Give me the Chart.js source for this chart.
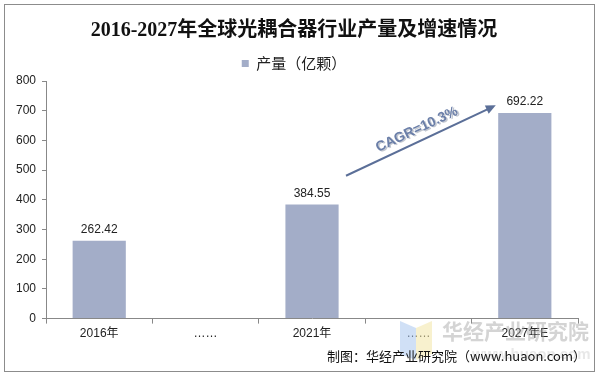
<!DOCTYPE html>
<html><head><meta charset="utf-8">
<script src="https://cdn.jsdelivr.net/npm/chart.js@4/dist/chart.umd.min.js"></script>
<style>html,body{margin:0;padding:0;background:#fff;}#wrap{width:599px;height:377px;}</style>
</head><body><div id="wrap"><canvas id="c" width="599" height="377"></canvas></div>
<script>
const categories = ["2016年", "……", "2021年", "……", "2027年E"];
const production = [262.42, null, 384.55, null, 692.22];
const yTicks = [0, 100, 200, 300, 400, 500, 600, 700, 800];
const seriesName = "产量（亿颗）";
const titleText = "2016-2027年全球光耦合器行业产量及增速情况";
const cagrText = "CAGR=10.3%";
const sourceText = "制图：华经产业研究院（www.huaon.com）";

const extras = {
  id: 'extras',
  beforeDraw(chart) {
    const ctx = chart.ctx;
    ctx.save();
    ctx.fillStyle = '#fff';
    ctx.fillRect(0, 0, chart.width, chart.height);
    ctx.restore();
  },
  afterDatasetsDraw(chart) {
    const ctx = chart.ctx;
    const meta = chart.getDatasetMeta(0);
    ctx.save();
    // value labels
    ctx.font = '12px "Liberation Sans", Arial, sans-serif';
    ctx.fillStyle = '#222';
    ctx.textAlign = 'center';
    ctx.textBaseline = 'bottom';
    meta.data.forEach((bar, i) => {
      const v = production[i];
      if (v == null) return;
      ctx.fillText(v.toFixed(2), bar.x, bar.y - 5);
    });
    // CAGR arrow between 2021 and 2027 bars
    const b1 = meta.data[2], b2 = meta.data[4];
    const ys = chart.scales.y;
    const x1 = b1.x + 34, y1 = ys.getPixelForValue(481);
    const x2 = b2.x - 29, y2 = ys.getPixelForValue(718);
    const ang = Math.atan2(y2 - y1, x2 - x1);
    ctx.strokeStyle = '#5b6f98';
    ctx.fillStyle = '#5b6f98';
    ctx.lineWidth = 2;
    ctx.beginPath(); ctx.moveTo(x1, y1); ctx.lineTo(x2 - 7 * Math.cos(ang), y2 - 7 * Math.sin(ang)); ctx.stroke();
    ctx.beginPath();
    ctx.moveTo(x2, y2);
    ctx.lineTo(x2 - 10 * Math.cos(ang) + 4.5 * Math.sin(ang), y2 - 10 * Math.sin(ang) - 4.5 * Math.cos(ang));
    ctx.lineTo(x2 - 10 * Math.cos(ang) - 4.5 * Math.sin(ang), y2 - 10 * Math.sin(ang) + 4.5 * Math.cos(ang));
    ctx.closePath(); ctx.fill();
    // CAGR text
    ctx.translate((x1 + x2) / 2 - 4, (y1 + y2) / 2 - 11);
    ctx.rotate(ang);
    ctx.font = 'bold 14px "Liberation Sans", Arial, sans-serif';
    ctx.textAlign = 'center';
    ctx.textBaseline = 'middle';
    ctx.fillStyle = 'rgba(120,130,150,0.45)';
    ctx.fillText(cagrText, 1, 1.5);
    ctx.fillStyle = '#6a7ea8';
    ctx.fillText(cagrText, 0, 0);
    ctx.restore();
  },
  afterDraw(chart) {
    const ctx = chart.ctx;
    ctx.save();
    // watermark
    ctx.globalAlpha = 0.55;
    ctx.fillStyle = '#a9c6ee';
    ctx.beginPath(); ctx.moveTo(400, 321); ctx.lineTo(416, 328); ctx.lineTo(416, 360); ctx.lineTo(400, 354); ctx.closePath(); ctx.fill();
    ctx.fillStyle = '#f3e6a6';
    ctx.beginPath(); ctx.moveTo(416, 328); ctx.lineTo(432, 321); ctx.lineTo(432, 354); ctx.lineTo(416, 360); ctx.closePath(); ctx.fill();
    ctx.globalAlpha = 1;
    ctx.font = 'bold 21px "Noto Sans CJK SC", sans-serif';
    ctx.fillStyle = 'rgba(160,160,160,0.45)';
    ctx.textAlign = 'left';
    ctx.textBaseline = 'middle';
    ctx.fillText('华经产业研究院', 442, 331);
    ctx.font = 'bold 15px "Liberation Sans", sans-serif';
    ctx.fillStyle = 'rgba(180,180,180,0.3)';
    ctx.fillText('www.huaon.com', 472, 355);
    // source
    ctx.font = '13px "Noto Sans CJK SC", "Liberation Sans", sans-serif';
    ctx.fillStyle = '#111';
    ctx.textAlign = 'right';
    ctx.fillText(sourceText, 586, 356);
    // outer border
    ctx.strokeStyle = '#8c8c8c';
    ctx.lineWidth = 1;
    ctx.strokeRect(4.5, 4.5, 590, 367);
    ctx.restore();
  }
};

new Chart(document.getElementById('c'), {
  type: 'bar',
  data: {
    labels: categories,
    datasets: [{
      label: seriesName,
      data: production,
      backgroundColor: '#a3adc8',
      borderWidth: 0,
      barPercentage: 0.5,
      categoryPercentage: 1.0
    }]
  },
  options: {
    responsive: false,
    animation: false,
    devicePixelRatio: 1,
    layout: { padding: { left: 10, right: 21, top: 15, bottom: 33 } },
    plugins: {
      title: {
        display: true,
        text: titleText,
        color: '#111',
        font: { family: '"Liberation Serif", "Noto Sans CJK SC", serif', size: 20, weight: 'bold' },
        padding: { top: 4, bottom: 4 }
      },
      legend: {
        display: true,
        labels: {
          color: '#222',
          font: { family: '"Noto Sans CJK SC", sans-serif', size: 15 },
          boxWidth: 7, boxHeight: 7,
          padding: 9
        }
      },
      tooltip: { enabled: false }
    },
    scales: {
      x: {
        grid: { display: true, offset: true, drawOnChartArea: false, tickLength: 5, color: '#888' },
        border: { color: '#888' },
        ticks: { color: '#222', font: { family: '"Liberation Sans", "Noto Sans CJK SC", sans-serif', size: 12 }, padding: 3 }
      },
      y: {
        min: 0, max: 800,
        afterBuildTicks(scale) { scale.ticks = yTicks.map(v => ({ value: v })); },
        grid: { display: true, drawOnChartArea: false, tickLength: 4, color: '#888' },
        border: { color: '#888' },
        ticks: { color: '#222', font: { family: '"Liberation Sans", Arial, sans-serif', size: 12 }, padding: 6 }
      }
    }
  },
  plugins: [extras]
});
</script></body></html>
